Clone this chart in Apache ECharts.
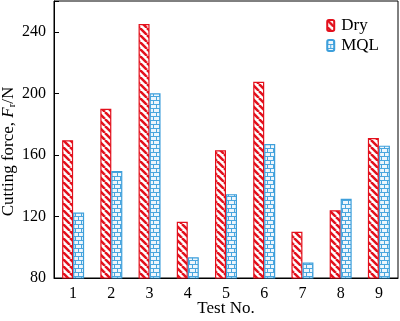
<!DOCTYPE html>
<html><head><meta charset="utf-8">
<script src="https://cdn.jsdelivr.net/npm/echarts@6/dist/echarts.min.js"></script>
<style>html,body{margin:0;padding:0;background:#fff}#c{width:400px;height:321px}</style>
</head><body><div id="c"></div>
<script>
var categories = ['1','2','3','4','5','6','7','8','9'];
var dryValues = [169.5, 190, 245, 116.5, 163, 207.5, 110, 124, 171];
var mqlValues = [122.5, 149.5, 200, 93.5, 134.5, 167, 90, 131.5, 166];
var yTicks = [80, 120, 160, 200, 240];

function stripePattern(){
  var s = 7, c = document.createElement('canvas');
  c.width = s; c.height = s;
  var g = c.getContext('2d');
  g.fillStyle = '#ffffff'; g.fillRect(0,0,s,s);
  g.strokeStyle = '#e3101c'; g.lineWidth = 2.5;
  for (var k=-1;k<=1;k++){ g.beginPath(); g.moveTo(k*s,0); g.lineTo(k*s+s,s); g.stroke(); }
  return {image:c, repeat:'repeat'};
}
function brickPattern(){
  var w = 6, h = 8, c = document.createElement('canvas');
  c.width = w; c.height = h;
  var g = c.getContext('2d');
  g.fillStyle = '#eef6fc'; g.fillRect(0,0,w,h);
  g.fillStyle = '#4aa6de';
  g.fillRect(0,0,w,1); g.fillRect(0,4,w,1);
  g.fillRect(0,0,1,4); g.fillRect(3,4,1,4);
  return {image:c, repeat:'repeat'};
}
var chart = echarts.init(document.getElementById('c'), null, {renderer:'canvas'});
var font = '"Liberation Serif","Times New Roman",serif';
chart.setOption({
  animation:false,
  grid:{left:54, right:2, top:1, bottom:43, show:true, borderColor:'#000', borderWidth:1,
        containLabel:false, outerBoundsMode:'none'},
  legend:{
    right:16, top:12, orient:'vertical', itemWidth:7, itemHeight:11, itemGap:3,
    textStyle:{fontFamily:font, fontSize:17, color:'#000', padding:[0,0,0,2]},
    data:['Dry','MQL']
  },
  xAxis:{
    type:'category', data:categories,
    name:'Test No.', nameLocation:'middle', nameGap:22, nameMoveOverlap:false,
    nameTextStyle:{fontFamily:font, fontSize:17, color:'#000'},
    axisLine:{lineStyle:{color:'#000', width:1}},
    axisTick:{show:false},
    axisLabel:{fontFamily:font, fontSize:16, color:'#000', margin:8}
  },
  yAxis:{
    type:'value', min:80, max:260, interval:40,
    name:'Cutting force, {i|F}{s|r}/N', nameLocation:'middle', nameGap:36, nameMoveOverlap:false,
    nameTextStyle:{fontFamily:font, fontSize:17, color:'#000', padding:[0,24,0,0],
      rich:{i:{fontFamily:font, fontSize:17, fontStyle:'italic', color:'#000'},
            s:{fontFamily:font, fontSize:11, color:'#000', padding:[8,0,0,0]}}},
    axisLine:{show:true, lineStyle:{color:'#000', width:1}},
    axisTick:{show:true, inside:true, length:5, lineStyle:{color:'#000'}},
    splitLine:{show:false},
    axisLabel:{fontFamily:font, fontSize:16, color:'#000', margin:8,
      formatter:function(v){ return yTicks.indexOf(v) >= 0 ? String(v) : ''; }}
  },
  series:[
    {name:'Dry', type:'bar', data:dryValues, barWidth:11, barGap:'0%',
     itemStyle:{color:stripePattern(), borderColor:'#e3101c', borderWidth:1.2}},
    {name:'MQL', type:'bar', data:mqlValues, barWidth:11,
     itemStyle:{color:brickPattern(), borderColor:'#3d9fdb', borderWidth:1.2}}
  ]
});
</script></body></html>
